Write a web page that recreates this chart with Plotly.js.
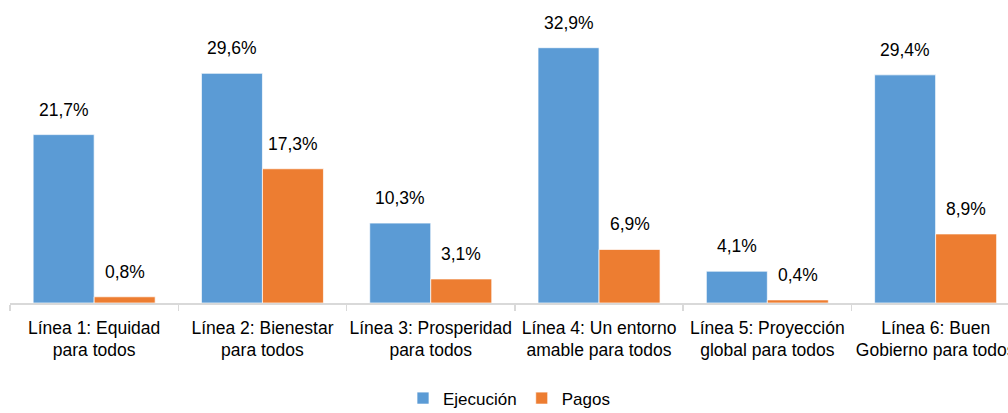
<!DOCTYPE html>
<html>
<head>
<meta charset="utf-8">
<script src="https://cdn.plot.ly/plotly-3.0.1.min.js"></script>
<style>html,body{margin:0;padding:0;background:#fff;overflow:hidden;}#chart{width:1008px;height:413px;}</style>
</head>
<body>
<div id="chart"></div>
<script>
const categories = [
  "Línea 1: Equidad<br>para todos",
  "Línea 2: Bienestar<br>para todos",
  "Línea 3: Prosperidad<br>para todos",
  "Línea 4: Un entorno<br>amable para todos",
  "Línea 5: Proyección<br>global para todos",
  "Línea 6: Buen<br>Gobierno para todos"
];
const ejecucion = [21.7, 29.6, 10.3, 32.9, 4.1, 29.4];
const pagos = [0.8, 17.3, 3.1, 6.9, 0.4, 8.9];
const seriesNames = ["Ejecución", "Pagos"];
const colors = ["#5B9BD5", "#ED7D31"];

const FONT = '"Liberation Sans Narrow", "Arial Narrow", "Liberation Sans", Arial, sans-serif';
const fmt = v => v.toFixed(1).replace('.', ',') + '%';

const bargap = 0.275;
const half = (1 - bargap) / 4;

const traces = [ejecucion, pagos].map((vals, k) => ({
  type: 'bar',
  name: seriesNames[k],
  x: categories,
  y: vals,
  marker: {color: colors[k], line: {color: 'rgba(255,255,255,0.7)', width: 1}},
  hoverinfo: 'skip'
}));

const annotations = [];
[ejecucion, pagos].forEach((vals, k) => {
  vals.forEach((v, i) => {
    annotations.push({
      x: i + (k === 0 ? -half : half),
      y: v,
      xref: 'x', yref: 'y',
      text: fmt(v),
      showarrow: false,
      yanchor: 'bottom',
      yshift: 13,
      font: {family: FONT, size: 17.5, color: '#000'}
    });
  });
});

const layout = {
  width: 1008, height: 413,
  margin: {l: 10, r: 0, t: 10, b: 110},
  paper_bgcolor: '#fff', plot_bgcolor: '#fff',
  barmode: 'group',
  bargap: bargap,
  bargroupgap: 0,
  showlegend: true,
  legend: {
    orientation: 'h', x: 0.5, xanchor: 'center',
    yref: 'container', y: 0.035, yanchor: 'middle',
    font: {family: FONT, size: 17, color: '#000'},
    itemwidth: 30, traceorder: 'normal'
  },
  xaxis: {
    type: 'category',
    range: [-0.5, 5.43],
    showline: true, linecolor: '#d9d9d9', linewidth: 1.5,
    ticks: 'outside', tickson: 'boundaries', ticklen: 6, tickcolor: '#d9d9d9', tickwidth: 1.5,
    tickangle: 0,
    tickfont: {family: FONT, size: 17.5, color: '#000'},
    ticklabelstandoff: 8,
    showgrid: false, zeroline: false, automargin: false, fixedrange: true
  },
  yaxis: {
    range: [0, 37.76],
    visible: false, showgrid: false, zeroline: false, fixedrange: true
  },
  annotations: annotations
};

Plotly.newPlot('chart', traces, layout, {displayModeBar: false, staticPlot: true});
</script>
</body>
</html>
